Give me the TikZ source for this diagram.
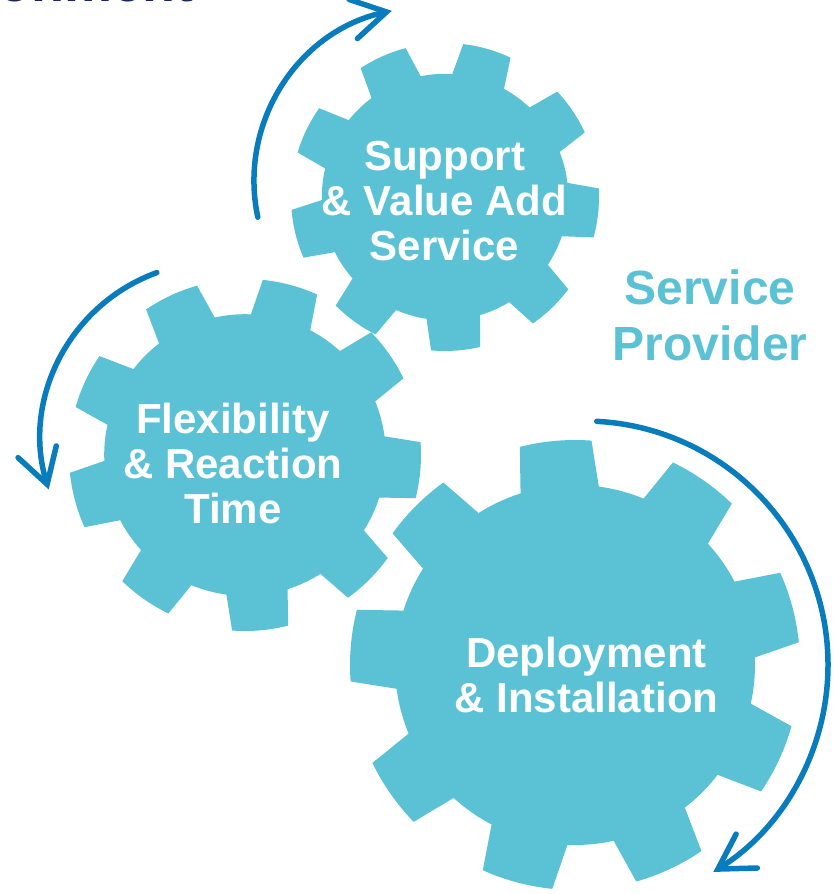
\documentclass[tikz,border=0pt]{standalone}
\usepackage{fontspec}
\setmainfont{Liberation Sans}
\usetikzlibrary{arrows.meta}
\definecolor{gearblue}{RGB}{91,194,214}
\definecolor{arrowblue}{RGB}{8,124,188}
\definecolor{titlenavy}{RGB}{28,38,90}
\tikzset{
  gear/.style={fill=gearblue},
  cyclearrow/.style={draw=arrowblue,line width=5.5pt,line cap=round,
    -{Straight Barb[length=34pt,width=40pt,line cap=round]}},
  gearlabel/.style={text=white,font=\fontsize{42}{45}\selectfont\bfseries,align=center}
}
% #1 radius of the tooth tips, #2 angle of the first tooth
\newcommand\cog[2]{%
\fill[gear] (#2-12.6:0.8*#1) \foreach \t in {0,40,...,320}{
  -- (#2+\t-12.6:0.8*#1) -- (#2+\t-9.2:#1)
  arc[start angle=#2+\t-9.2,end angle=#2+\t+9.2,radius=#1]
  -- (#2+\t+12.6:0.8*#1)
  arc[start angle=#2+\t+12.6,end angle=#2+\t+27.4,radius=0.8*#1]} -- cycle;}
\begin{document}
\begin{tikzpicture}[x=1pt,y=1pt]
\useasboundingbox (0,0) rectangle (833,-894);
\node[anchor=base east,text=titlenavy,font=\fontsize{54}{56}\selectfont\bfseries] (title) at (197,-1.5) {Environment};

\coordinate (supp) at (445,-197);
\coordinate (flex) at (245,-455);
\coordinate (depl) at (575,-665);
\begin{scope}[shift={(supp)}] \cog{154}{34} \end{scope}
\begin{scope}[shift={(flex)}] \cog{176}{35} \end{scope}
\begin{scope}[shift={(depl)}] \cog{225}{15} \end{scope}

\node[gearlabel] (supptext) at (444.5,-206) {\strut Support\\ \& Value Add\\ Service\strut};
\node[gearlabel] (flextext) at (233,-469) {\strut Flexibility\\ \& Reaction\\ Time\strut};
\node[gearlabel] (depltext) at (586.5,-680.5) {\strut Deployment\\ \& Installation\strut};
\node[text=gearblue,font=\fontsize{48}{56}\selectfont\bfseries,align=center] (provider) at (710,-321) {\strut Service\\ Provider\strut};

% arrows round the gears
\coordinate (a1) at (428,-181);
\coordinate (a2) at (217,-438);
\coordinate (a3) at (584,-665);
\draw[cyclearrow] (a1) ++(192:174) arc[start angle=192,end angle=102,radius=174];
\draw[cyclearrow] (a2) ++(110:176) arc[start angle=110,end angle=197,radius=176];
\draw[cyclearrow] (a3) ++(87:244) arc[start angle=87,end angle=-58,radius=244];
\end{tikzpicture}
\end{document}
